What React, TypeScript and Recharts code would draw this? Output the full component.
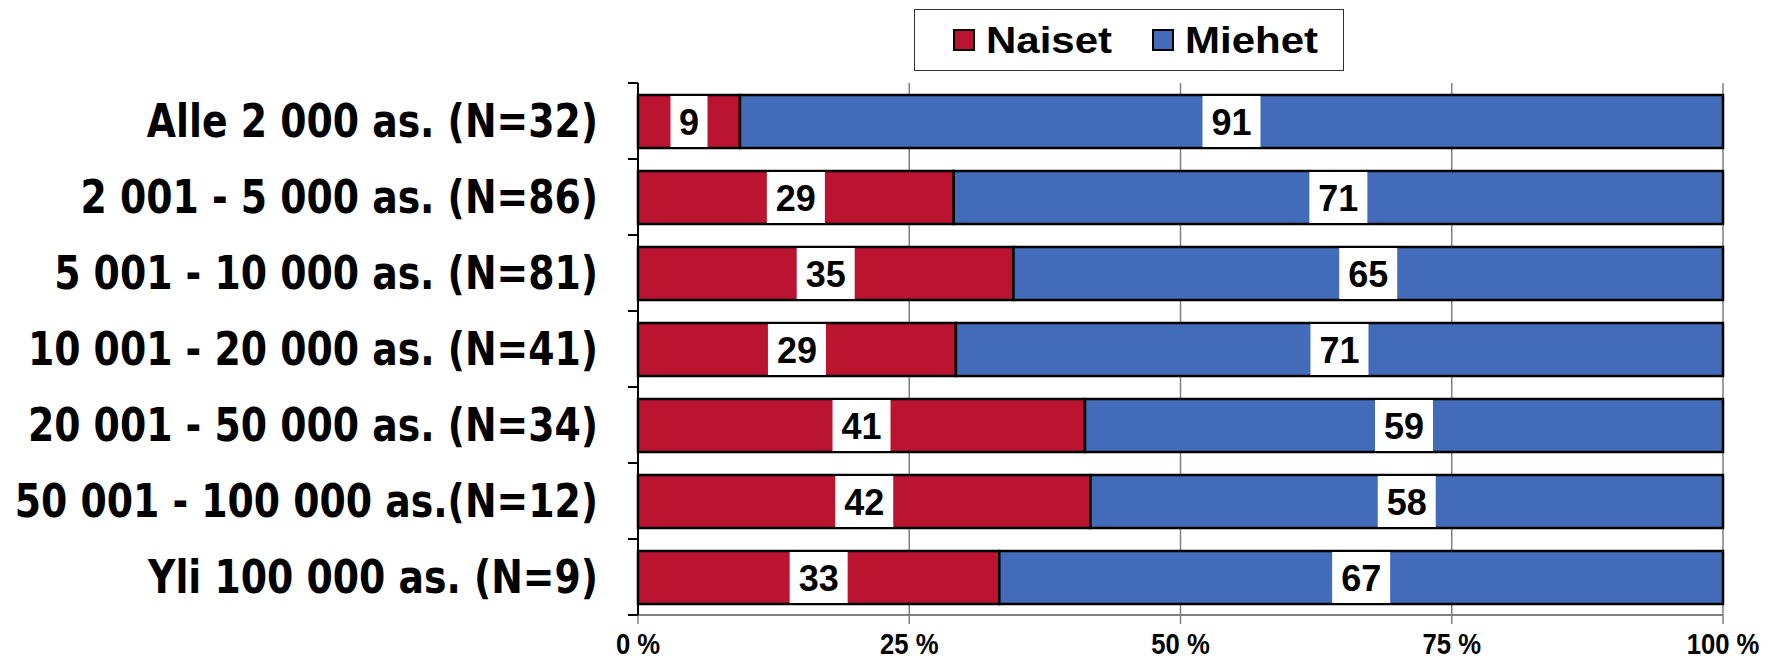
import React from "react";
import { BarChart, Bar, XAxis, YAxis, CartesianGrid, LabelList } from "recharts";

const categories = [
  "Alle 2 000 as. (N=32)",
  "2 001 - 5 000 as. (N=86)",
  "5 001 - 10 000 as. (N=81)",
  "10 001 - 20 000 as. (N=41)",
  "20 001 - 50 000 as. (N=34)",
  "50 001 - 100 000 as.(N=12)",
  "Yli 100 000 as. (N=9)",
];
const naiset = [9.4, 29.1, 34.6, 29.3, 41.2, 41.7, 33.3];
const miehet = [90.6, 70.9, 65.4, 70.7, 58.8, 58.3, 66.7];
const xTicks = [0, 25, 50, 75, 100];

const data = categories.map((name, i) => ({ name, naiset: naiset[i], miehet: miehet[i] }));

const W = 1769;
const H = 663;
const TOP = 83;
const BOTTOM = 48;
const LEFT = 638;
const RIGHT = 46;
const BAND = (H - TOP - BOTTOM) / categories.length;

const RED = "#BA1430";
const BLUE = "#426CB9";

const CategoryTick = (props: any) => {
  const { y, payload, index } = props;
  return (
    <g>
      <text
        transform={`translate(${LEFT - 40},${y}) scale(1,1.08)`}
        x={0}
        y={0}
        textAnchor="end"
        dominantBaseline="central"
        fontFamily="'DejaVu Sans Condensed', 'DejaVu Sans', sans-serif"
        fontWeight="bold"
        fontSize={42}
        fill="#000"
      >
        {payload.value}
      </text>
      {index === 0 && <line x1={LEFT - 10} x2={LEFT} y1={y - BAND / 2} y2={y - BAND / 2} stroke="#000" strokeWidth={2} />}
      <line x1={LEFT - 10} x2={LEFT} y1={y + BAND / 2} y2={y + BAND / 2} stroke="#000" strokeWidth={2} />
    </g>
  );
};

const PctTick = (props: any) => {
  const { x, y, payload } = props;
  return (
    <text
      transform={`translate(${x},${y + 18}) scale(0.95,1.12)`}
      x={0}
      y={0}
      textAnchor="middle"
      dominantBaseline="central"
      fontFamily="'Liberation Sans', Arial, sans-serif"
      fontWeight="bold"
      fontSize={27}
      fill="#000"
    >
      {payload.value} %
    </text>
  );
};

const BoxLabel = (props: any) => {
  const { x, y, width, height, value } = props;
  const txt = String(Math.round(value));
  const bw = txt.length === 1 ? 37 : 58;
  const cx = x + width / 2;
  return (
    <g>
      <rect x={cx - bw / 2} y={y + 1} width={bw} height={height - 2} fill="#fff" />
      <text
        x={cx}
        y={y + height / 2 + 1}
        textAnchor="middle"
        dominantBaseline="central"
        fontFamily="'Liberation Sans', Arial, sans-serif"
        fontWeight="bold"
        fontSize={36}
        fill="#000"
      >
        {txt}
      </text>
    </g>
  );
};

const LegendBox = () => {
  const item = (color: string, label: string, gap: number) => (
    <span style={{ display: "inline-flex", alignItems: "center", marginRight: gap }}>
      <span
        style={{
          display: "inline-block",
          width: 18,
          height: 18,
          background: color,
          border: "2px solid #000",
          marginRight: 11,
        }}
      />
      <span style={{ display: "inline-block", transform: "scaleY(0.9)" }}>{label}</span>
    </span>
  );
  return (
    <div
      style={{
        position: "absolute",
        left: 914,
        top: 9,
        width: 430,
        height: 62,
        border: "1.5px solid #333",
        boxSizing: "border-box",
        display: "flex",
        alignItems: "center",
        fontFamily: "'Liberation Sans', Arial, sans-serif",
        fontWeight: "bold",
        fontSize: 42,
        lineHeight: 1,
        background: "#fff",
        paddingLeft: 38,
      }}
    >
      {item(RED, "Naiset", 40)}
      {item(BLUE, "Miehet", 0)}
    </div>
  );
};

export default function App() {
  return (
    <div style={{ position: "absolute", left: 0, top: 0, width: W, height: H, background: "#fff" }}>
      <BarChart
        width={W}
        height={H}
        data={data}
        layout="vertical"
        margin={{ top: TOP, right: RIGHT, bottom: 0, left: 0 }}
      >
        <CartesianGrid horizontal={false} stroke="#808080" strokeWidth={1.5} />
        <XAxis
          type="number"
          domain={[0, 100]}
          ticks={xTicks}
          tick={<PctTick />}
          axisLine={{ stroke: "#808080", strokeWidth: 2 }}
          tickLine={{ stroke: "#808080", strokeWidth: 1.5 }}
          tickSize={9}
          height={BOTTOM}
          interval={0}
        />
        <XAxis
          xAxisId="top"
          orientation="top"
          type="number"
          domain={[0, 100]}
          tick={false}
          tickLine={false}
          axisLine={{ stroke: "#999", strokeWidth: 2 }}
          height={0}
        />
        <YAxis
          type="category"
          dataKey="name"
          width={LEFT}
          tick={<CategoryTick />}
          tickLine={false}
          axisLine={{ stroke: "#000", strokeWidth: 2 }}
          interval={0}
        />
        <Bar dataKey="naiset" stackId="a" fill={RED} stroke="#000" strokeWidth={2.5} barSize={53} isAnimationActive={false}>
          <LabelList dataKey="naiset" content={<BoxLabel />} />
        </Bar>
        <Bar dataKey="miehet" stackId="a" fill={BLUE} stroke="#000" strokeWidth={2.5} barSize={53} isAnimationActive={false}>
          <LabelList dataKey="miehet" content={<BoxLabel />} />
        </Bar>
      </BarChart>
      <LegendBox />
    </div>
  );
}
